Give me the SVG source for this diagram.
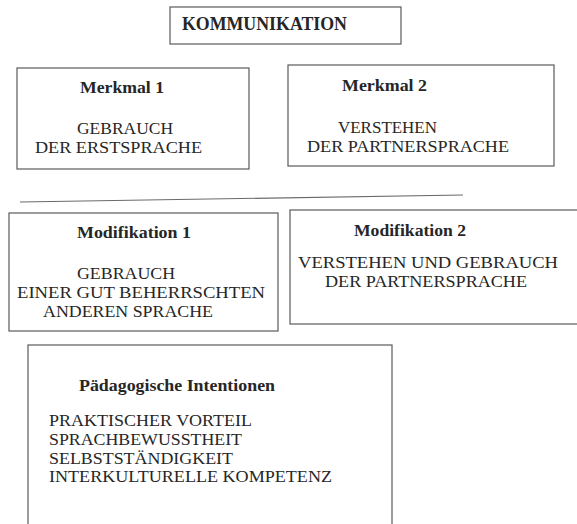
<svg xmlns="http://www.w3.org/2000/svg" width="577" height="524" viewBox="0 0 577 524">
<style>
.box{fill:#fff;stroke:#5a5a5a;stroke-width:1.2}
.t{font-family:"Liberation Serif","Times New Roman",serif;fill:#262626}
.h{font-size:16.5px;font-weight:bold}
.b{font-size:17px}
</style>
<rect width="577" height="524" fill="#fff"/>
<g id="kommunikation">
<rect class="box" x="170" y="7" width="231" height="37"/>
<text class="t h" x="182" y="30" textLength="165" lengthAdjust="spacingAndGlyphs" style="font-size:18px">KOMMUNIKATION</text>
</g>
<g id="merkmal1">
<rect class="box" x="17" y="68" width="232" height="101"/>
<text class="t h" x="80" y="93" textLength="84" lengthAdjust="spacingAndGlyphs">Merkmal 1</text>
<text class="t b" x="77" y="134" textLength="96" lengthAdjust="spacingAndGlyphs">GEBRAUCH</text>
<text class="t b" x="35" y="153" textLength="167" lengthAdjust="spacingAndGlyphs">DER ERSTSPRACHE</text>
</g>
<g id="merkmal2">
<rect class="box" x="288" y="65" width="266" height="101"/>
<text class="t h" x="342" y="91" textLength="85" lengthAdjust="spacingAndGlyphs">Merkmal 2</text>
<text class="t b" x="338" y="133" textLength="99" lengthAdjust="spacingAndGlyphs">VERSTEHEN</text>
<text class="t b" x="307" y="152" textLength="202" lengthAdjust="spacingAndGlyphs">DER PARTNERSPRACHE</text>
</g>
<g id="connectors">
<line x1="20" y1="202" x2="463" y2="195" stroke="#6a6a6a" stroke-width="1.2"/>
</g>
<g id="modifikation1">
<rect class="box" x="9" y="213" width="269" height="118"/>
<text class="t h" x="77" y="238" textLength="114" lengthAdjust="spacingAndGlyphs">Modifikation 1</text>
<text class="t b" x="77" y="279" textLength="98" lengthAdjust="spacingAndGlyphs">GEBRAUCH</text>
<text class="t b" x="17" y="298" textLength="248" lengthAdjust="spacingAndGlyphs">EINER GUT BEHERRSCHTEN</text>
<text class="t b" x="43" y="317" textLength="170" lengthAdjust="spacingAndGlyphs">ANDEREN SPRACHE</text>
</g>
<g id="modifikation2">
<rect class="box" x="290" y="210" width="300" height="114"/>
<text class="t h" x="354" y="236" textLength="112" lengthAdjust="spacingAndGlyphs">Modifikation 2</text>
<text class="t b" x="298" y="268" textLength="260" lengthAdjust="spacingAndGlyphs">VERSTEHEN UND GEBRAUCH</text>
<text class="t b" x="325" y="287" textLength="202" lengthAdjust="spacingAndGlyphs">DER PARTNERSPRACHE</text>
</g>
<g id="intentionen">
<rect class="box" x="28" y="345" width="364" height="200"/>
<text class="t h" x="79" y="391" textLength="196" lengthAdjust="spacingAndGlyphs">Pädagogische Intentionen</text>
<text class="t b" x="49" y="426" textLength="203" lengthAdjust="spacingAndGlyphs">PRAKTISCHER VORTEIL</text>
<text class="t b" x="49" y="445" textLength="193" lengthAdjust="spacingAndGlyphs">SPRACHBEWUSSTHEIT</text>
<text class="t b" x="49" y="464" textLength="184" lengthAdjust="spacingAndGlyphs">SELBSTSTÄNDIGKEIT</text>
<text class="t b" x="49" y="482" textLength="283" lengthAdjust="spacingAndGlyphs">INTERKULTURELLE KOMPETENZ</text>
</g>
</svg>
